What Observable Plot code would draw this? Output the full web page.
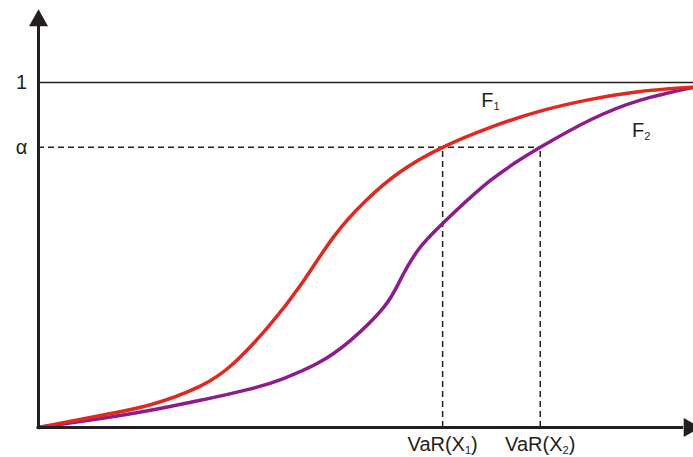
<!DOCTYPE html>
<html>
<head>
<meta charset="utf-8">
<script src="https://cdn.jsdelivr.net/npm/d3@7"></script>
<script src="https://cdn.jsdelivr.net/npm/@observablehq/plot@0.6"></script>
<style>
  html, body { margin: 0; padding: 0; background: #fff; }
  svg { display: block; }
</style>
</head>
<body>
<div id="chart"></div>
<script>
// Two cumulative distribution functions F1 and F2 with their value-at-risk at level α
const xs1 = [0, 9.5, 17.1, 24.7, 29.8, 35.0, 40.0, 45.0, 50.0, 55.3, 61.7, 69.0, 76.6, 84.3, 91.9, 100];
const f1  = [0, 0.035, 0.066, 0.120, 0.186, 0.290, 0.412, 0.551, 0.658, 0.742, 0.812, 0.870, 0.917, 0.951, 0.974, 0.986];

const xs2 = [0, 9.5, 17.1, 24.7, 32.4, 37.4, 42.6, 47.6, 52.7, 55.3, 57.9, 61.7, 69.0, 76.6, 84.3, 91.9, 100];
const f2  = [0, 0.026, 0.050, 0.079, 0.112, 0.142, 0.186, 0.252, 0.348, 0.430, 0.513, 0.591, 0.716, 0.812, 0.892, 0.949, 0.986];

const alpha = 0.812;
const varX1 = 61.7;
const varX2 = 76.6;
const yTop = 1;

// axis extents (data units)
const xAxisEnd = 101.1;
const yAxisEnd = 1.212;

const yTickLabels = [{y: yTop, label: "1"}, {y: alpha, label: "α"}];
const xTickLabels = [{x: varX1, label: "VaR(X_1)"}, {x: varX2, label: "VaR(X_2)"}];
const curveLabels = [{x: 69, y: 0.948, label: "F_1"}, {x: 92, y: 0.861, label: "F_2"}];

const f1Data = xs1.map((x, i) => ({x, y: f1[i]}));
const f2Data = xs2.map((x, i) => ({x, y: f2[i]}));

// filled arrowhead, tip at the anchor point, pointing up
const arrowHead = {
  draw(ctx) {
    ctx.moveTo(0, 0);
    ctx.lineTo(9.5, 17);
    ctx.lineTo(-9.5, 17);
    ctx.closePath();
  }
};

const ink = "#231f20";
const font = "'Liberation Sans', Arial, sans-serif";

const chart = Plot.plot({
  width: 693,
  height: 457,
  marginLeft: 38,
  marginRight: 0,
  marginTop: 82,
  marginBottom: 30,
  x: {domain: [0, 100], axis: null},
  y: {domain: [0, 1], axis: null},
  style: {fontFamily: font, background: "#fff"},
  marks: [
    // level 1
    Plot.ruleY([yTop], {x1: 0, x2: 100, stroke: ink, strokeWidth: 1.5}),
    // level α and the two quantiles
    Plot.ruleY([alpha], {x1: 0, x2: varX2, stroke: ink, strokeWidth: 1.5, strokeDasharray: "6,4"}),
    Plot.ruleX([varX1, varX2], {y1: 0, y2: alpha, stroke: ink, strokeWidth: 1.5, strokeDasharray: "6,4"}),
    // distribution functions
    Plot.line(f2Data, {x: "x", y: "y", curve: "natural", stroke: "#8e1b8c", strokeWidth: 3.5}),
    Plot.line(f1Data, {x: "x", y: "y", curve: "natural", stroke: "#e2271f", strokeWidth: 3.5}),
    // axes with arrowheads
    Plot.ruleY([0], {x1: -0.2, x2: xAxisEnd - 2.6, stroke: ink, strokeWidth: 3}),
    Plot.ruleX([0], {y1: -0.003, y2: yAxisEnd - 0.045, stroke: ink, strokeWidth: 3}),
    Plot.dot([{x: 0, y: yAxisEnd, r: 0}, {x: xAxisEnd, y: 0, r: 90}], {
      x: "x", y: "y", rotate: "r", symbol: arrowHead, fill: ink, stroke: "none", r: 5
    }),
    // labels
    Plot.text(yTickLabels, {x: 0, y: "y", text: "label", dx: -17, fontSize: 20, fill: ink}),
    Plot.text(xTickLabels, {x: "x", y: 0, text: "label", dy: 17, fontSize: 20, fill: ink}),
    Plot.text(curveLabels, {x: "x", y: "y", text: "label", fontSize: 20, fill: ink})
  ]
});

// render "_n" as a subscript
const ns = "http://www.w3.org/2000/svg";
chart.querySelectorAll("text").forEach(t => {
  const s = t.textContent;
  if (!s.includes("_")) return;
  t.textContent = "";
  let lowered = false;
  s.split(/(_\w)/).forEach(part => {
    if (!part) return;
    const ts = document.createElementNS(ns, "tspan");
    if (part[0] === "_") {
      ts.textContent = part.slice(1);
      ts.setAttribute("font-size", "11");
      ts.setAttribute("dy", "3");
      lowered = true;
    } else {
      ts.textContent = part;
      if (lowered) { ts.setAttribute("dy", "-3"); lowered = false; }
    }
    t.appendChild(ts);
  });
});

document.getElementById("chart").appendChild(chart);
</script>
</body>
</html>
